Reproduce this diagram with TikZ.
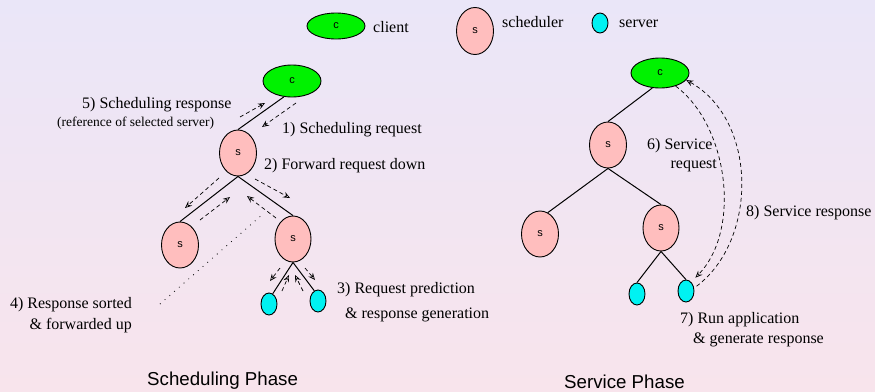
\documentclass[tikz,border=0pt]{standalone}
\usepackage{fontspec}
\setmainfont{Liberation Serif}
\setsansfont{Liberation Sans}
\newfontfamily\timesfont{Liberation Serif}
\newfontfamily\helvfont{Liberation Sans}
\usetikzlibrary{arrows.meta,shapes.geometric}

\definecolor{bgtop}{RGB}{234,230,248}
\definecolor{bgbot}{RGB}{248,228,236}
\definecolor{cgreen}{RGB}{0,242,0}
\definecolor{spink}{RGB}{255,190,190}
\definecolor{vcyan}{RGB}{0,242,242}

\tikzset{
  nd/.style={ellipse,draw,line width=0.9pt,inner sep=0pt,font=\helvfont\fontsize{11}{13}\selectfont},
  cl/.style={nd,fill=cgreen,minimum width=58pt,minimum height=31pt},
  sc/.style={nd,fill=spink,minimum width=37pt,minimum height=46pt},
  sv/.style={nd,fill=vcyan,minimum width=16pt,minimum height=22pt},
  edge/.style={line width=1pt},
  msg/.style={line width=0.7pt,dash pattern=on 4pt off 3pt,-{Stealth[open,length=7pt,width=6pt,inset=2.5pt]}},
  lbl/.style={inner sep=0pt,font=\timesfont\fontsize{16}{19}\selectfont},
  small/.style={inner sep=0pt,font=\timesfont\fontsize{13.5}{16}\selectfont},
  phase/.style={inner sep=0pt,font=\helvfont\fontsize{18.7}{22}\selectfont},
}

\begin{document}
\begin{tikzpicture}[x=1pt,y=-1pt]
\shade[top color=bgtop,bottom color=bgbot] (0,0) rectangle (875,391);
\useasboundingbox (0,0) rectangle (875,391);

% legend
\node[cl,minimum height=26pt] (gc) at (336,26) {c};
\node[lbl,anchor=base west] (tc) at (373,32) {client};
\node[sc,minimum height=47pt] (gs) at (475,31) {s};
\node[lbl,anchor=base west] (ts) at (502,27) {scheduler};
\node[sv,minimum height=20pt] (gv) at (600,23) {};
\node[lbl,anchor=base west] (tv) at (619,27) {server};

% left tree
\node[cl,minimum height=32pt] (lc) at (292,81) {c};
\node[sc] (ls) at (238,153) {s};
\node[sc] (lsl) at (180,245) {s};
\node[sc,minimum width=36pt] (lsr) at (293,239) {s};
\node[sv] (lvl) at (269,304) {};
\node[sv] (lvr) at (318,301) {};

\draw[edge] (lc.-117) -- (ls.north);
\draw[edge] (ls.south) -- (lsl.north);
\draw[edge] (ls.south) -- (lsr.north);
\draw[edge] (lsr.south) -- (lvl.70);
\draw[edge] (lsr.south) -- (lvr.110);

% message arrows (left)
\coordinate (a5s) at (240,117); \coordinate (a5e) at (265,103);
\coordinate (a1s) at (296,103); \coordinate (a1e) at (262,127);
\coordinate (a2s) at (219,178); \coordinate (a2e) at (185,208);
\coordinate (a4s) at (200,220); \coordinate (a4e) at (230,197);
\coordinate (b2s) at (255,179); \coordinate (b2e) at (290,198);
\coordinate (b4s) at (276,218); \coordinate (b4e) at (247,196);
\coordinate (c1s) at (280,268); \coordinate (c1e) at (270,281);
\coordinate (c2s) at (282,291); \coordinate (c2e) at (289,275);
\coordinate (c3s) at (303,291); \coordinate (c3e) at (295,275);
\coordinate (c4s) at (305,268); \coordinate (c4e) at (315,280);
\coordinate (d1) at (160,304); \coordinate (d2) at (263,214);

\draw[msg] (a5s) -- (a5e);
\draw[msg] (a1s) -- (a1e);
\draw[msg] (a2s) -- (a2e);
\draw[msg] (a4s) -- (a4e);
\draw[msg] (b2s) -- (b2e);
\draw[msg] (b4s) -- (b4e);
\draw[msg] (c1s) -- (c1e);
\draw[msg] (c2s) -- (c2e);
\draw[msg] (c3s) -- (c3e);
\draw[msg] (c4s) -- (c4e);
\draw[line width=0.8pt,dash pattern=on 0.8pt off 5.5pt] (d1) -- (d2);

% left labels
\node[lbl,anchor=base west] (l5) at (82,108) {5) Scheduling response};
\node[small,anchor=base west] (l5b) at (57,126) {(reference of selected server)};
\node[lbl,anchor=base west] (l1) at (282,133) {1) Scheduling request};
\node[lbl,anchor=base west] (l2) at (264,169) {2) Forward request down};
\node[lbl,anchor=base west] (l3) at (337,293) {3) Request prediction};
\node[lbl,anchor=base west] (l3b) at (345,318) {\& response generation};
\node[lbl,anchor=base east] (l4) at (132,308) {4) Response sorted};
\node[lbl,anchor=base east] (l4b) at (132,329) {\& forwarded up};
\node[phase,anchor=base west] (p1) at (147,385) {Scheduling Phase};

% right tree
\node[cl,minimum height=30pt] (rc) at (660,73) {c};
\node[sc] (rs) at (608,145) {s};
\node[sc] (rsl) at (540,234) {s};
\node[sc,minimum width=36pt] (rsr) at (661,228) {s};
\node[sv] (rvl) at (637,294) {};
\node[sv] (rvr) at (686,291) {};

\draw[edge] (rc.-117) -- (rs.north);
\draw[edge] (rs.south) -- (rsl.70);
\draw[edge] (rs.south) -- (rsr.north);
\draw[edge] (rsr.south) -- (rvl.north);
\draw[edge] (rsr.south) -- (rvr.north);

\draw[msg,shorten >=6pt] (rc.-40) .. controls (728,125) and (742,230) .. (rvr.60);
\draw[msg,shorten <=3pt] (rvr.20) .. controls (758,240) and (758,120) .. (rc.-15);

\node[lbl,anchor=base west] (l6) at (647,149) {6) Service};
\node[lbl,anchor=base east] (l6b) at (717,168) {request};
\node[lbl,anchor=base west] (l8) at (746,216) {8) Service response};
\node[lbl,anchor=base west] (l7) at (680,323) {7) Run application};
\node[lbl,anchor=base west] (l7b) at (693,343) {\& generate response};
\node[phase,anchor=base west] (p2) at (564,388) {Service Phase};
\end{tikzpicture}
\end{document}
